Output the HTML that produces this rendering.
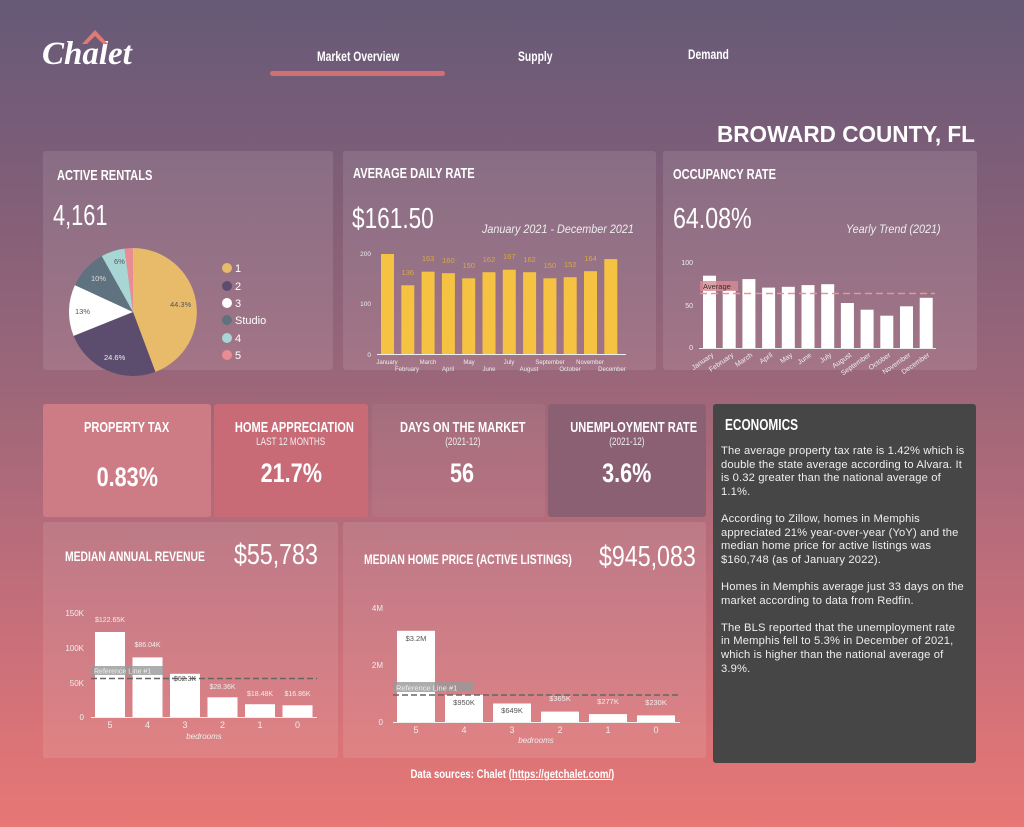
<!DOCTYPE html>
<html><head><meta charset="utf-8"><style>
*{margin:0;padding:0;box-sizing:border-box}
body{width:1024px;height:827px;overflow:hidden;position:relative;font-family:"Liberation Sans",sans-serif;color:#fff;
background:linear-gradient(180deg,#665a77 0%,#7b5d78 18%,#9a6679 45%,#c66f7a 75%,#e87775 100%)}
.a{position:absolute;white-space:nowrap}
.card{position:absolute;background:rgba(255,255,255,0.1);border-radius:3px}
.h{font-weight:bold;font-size:15px}
.n{font-size:29px}
.s{display:inline-block;transform:scaleX(0.74);transform-origin:left center}
.c{text-align:center}
.c .s{transform-origin:center center}
.eco{font-size:11.2px;line-height:13.6px;color:#eee;white-space:normal;letter-spacing:0.15px}
.eco p{margin-bottom:13.6px}
</style></head><body>
<div class="a" style="left:42px;top:36px;font-family:'Liberation Serif',serif;font-style:italic;font-weight:bold;font-size:33px">Chalet</div>
<svg class="a" style="left:80px;top:26px" width="30" height="20"><path d="M2 18 L15 4 L28 18 L23 18 L15 10 L7 18Z" fill="#e07a75"/></svg>
<div class="a h" style="left:317px;top:48px;font-size:14px"><span class="s">Market Overview</span></div>
<div class="a" style="left:270px;top:71px;width:175px;height:5px;border-radius:3px;background:#d26f74"></div>
<div class="a h" style="left:518px;top:48px;font-size:14px"><span class="s">Supply</span></div>
<div class="a h" style="left:688px;top:46px;font-size:14px"><span class="s">Demand</span></div>
<div class="a" style="left:717px;top:121px;font-size:23px;font-weight:bold"><span class="s" style="transform:scaleX(0.98)">BROWARD COUNTY, FL</span></div>

<div class="card" style="left:43px;top:151px;width:290px;height:219px"></div>
<div class="card" style="left:343px;top:151px;width:313px;height:219px"></div>
<div class="card" style="left:663px;top:151px;width:314px;height:219px"></div>
<div class="a h" style="left:57px;top:167px"><span class="s">ACTIVE RENTALS</span></div>
<div class="a n" style="left:53px;top:200px"><span class="s" style="transform:scaleX(0.75)">4,161</span></div>
<div class="a h" style="left:353px;top:165px"><span class="s">AVERAGE DAILY RATE</span></div>
<div class="a n" style="left:352px;top:203px"><span class="s" style="transform:scaleX(0.78)">$161.50</span></div>
<div class="a" style="left:482px;top:222px;font-size:12px;font-style:italic;color:#eee"><span class="s" style="transform:scaleX(0.9)">January 2021 - December 2021</span></div>
<div class="a h" style="left:673px;top:166px"><span class="s">OCCUPANCY RATE</span></div>
<div class="a n" style="left:673px;top:203px"><span class="s" style="transform:scaleX(0.8)">64.08%</span></div>
<div class="a" style="left:846px;top:222px;font-size:12px;font-style:italic;color:#eee"><span class="s" style="transform:scaleX(0.9)">Yearly Trend (2021)</span></div>

<div class="a" style="left:43px;top:404px;width:168px;height:113px;background:#cd7c86;border-radius:3px"></div>
<div class="a" style="left:214px;top:404px;width:154px;height:113px;background:#c96b76;border-radius:3px"></div>
<div class="a" style="left:372px;top:404px;width:173px;height:113px;background:rgba(255,255,255,0.05);border-radius:3px"></div>
<div class="a" style="left:548px;top:404px;width:158px;height:113px;background:#8a6072;border-radius:3px"></div>
<div class="a h c" style="left:43px;top:419px;width:168px"><span class="s">PROPERTY TAX</span></div>
<div class="a n c" style="left:43px;top:462px;width:168px;font-weight:bold;font-size:27px"><span class="s" style="transform:scaleX(0.8)">0.83%</span></div>
<div class="a h c" style="left:214px;top:419px;width:154px"><span class="s">HOME APPRECIATION</span></div>
<div class="a c" style="left:214px;top:436px;width:154px;font-size:11px;color:#eee"><span class="s">LAST 12 MONTHS</span></div>
<div class="a n c" style="left:214px;top:458px;width:154px;font-weight:bold;font-size:27px"><span class="s" style="transform:scaleX(0.8)">21.7%</span></div>
<div class="a h c" style="left:372px;top:419px;width:181px"><span class="s">DAYS ON THE MARKET</span></div>
<div class="a c" style="left:372px;top:436px;width:181px;font-size:11px;color:#eee"><span class="s">(2021-12)</span></div>
<div class="a n c" style="left:372px;top:458px;width:181px;font-weight:bold;font-size:27px"><span class="s" style="transform:scaleX(0.8)">56</span></div>
<div class="a h c" style="left:548px;top:419px;width:158px"><span class="s">UNEMPLOYMENT RATE</span></div>
<div class="a c" style="left:548px;top:436px;width:158px;font-size:11px;color:#eee"><span class="s">(2021-12)</span></div>
<div class="a n c" style="left:548px;top:458px;width:158px;font-weight:bold;font-size:27px"><span class="s" style="transform:scaleX(0.8)">3.6%</span></div>

<div class="a" style="left:713px;top:404px;width:263px;height:359px;background:#464646;border-radius:3px"></div>
<div class="a h" style="left:725px;top:417px;font-size:16px"><span class="s">ECONOMICS</span></div>
<div class="a eco" style="left:721px;top:445px;width:246px">
<p>The average property tax rate is 1.42% which is double the state average according to Alvara. It is 0.32 greater than the national average of 1.1%.</p>
<p>According to Zillow, homes in Memphis appreciated 21% year-over-year (YoY) and the median home price for active listings was $160,748 (as of January 2022).</p>
<p>Homes in Memphis average just 33 days on the market according to data from Redfin.</p>
<p>The BLS reported that the unemployment rate in Memphis fell to 5.3% in December of 2021, which is higher than the national average of 3.9%.</p></div>

<div class="card" style="left:43px;top:522px;width:295px;height:236px"></div>
<div class="card" style="left:343px;top:522px;width:363px;height:236px"></div>
<div class="a h" style="left:65px;top:548px;font-size:14px"><span class="s">MEDIAN ANNUAL REVENUE</span></div>
<div class="a n" style="left:234px;top:539px"><span class="s" style="transform:scaleX(0.8)">$55,783</span></div>
<div class="a h" style="left:364px;top:551px;font-size:14px"><span class="s">MEDIAN HOME PRICE (ACTIVE LISTINGS)</span></div>
<div class="a n" style="left:599px;top:541px"><span class="s" style="transform:scaleX(0.8)">$945,083</span></div>
<div class="a h c" style="left:0;top:767px;width:1024px;font-size:12px"><span class="s" style="transform:scaleX(0.8)">Data sources: Chalet (<u>https://getchalet.com/</u>)</span></div>

<svg class="a" style="left:0;top:0" width="1024" height="827" font-family="Liberation Sans,sans-serif">
<g stroke="none">
<path d="M133 312 L133 248 A64 64 0 0 1 155.4 371.9Z" fill="#e8bb6b"/>
<path d="M133 312 L155.4 371.9 A64 64 0 0 1 73.6 335.9Z" fill="#5c4d6e"/>
<path d="M133 312 L73.6 335.9 A64 64 0 0 1 74.9 285.1Z" fill="#fff"/>
<path d="M133 312 L74.9 285.1 A64 64 0 0 1 101.8 256.1Z" fill="#5f7280"/>
<path d="M133 312 L101.8 256.1 A64 64 0 0 1 124.6 248.6Z" fill="#a8d6d4"/>
<path d="M133 312 L124.6 248.6 A64 64 0 0 1 133 248Z" fill="#e88e92"/>
</g>
<g font-size="7.5" fill="#555"><text x="170" y="307">44.3%</text><text x="104" y="360" fill="#eee">24.6%</text><text x="75" y="314">13%</text><text x="91" y="281" fill="#ddd">10%</text><text x="114" y="264">6%</text></g>
<g font-size="11" fill="#fff">
<circle cx="227" cy="268" r="5" fill="#e8bb6b"/><text x="235" y="272">1</text>
<circle cx="227" cy="286" r="5" fill="#5c4d6e"/><text x="235" y="290">2</text>
<circle cx="227" cy="303" r="5" fill="#fff"/><text x="235" y="307">3</text>
<circle cx="227" cy="320" r="5" fill="#5f7280"/><text x="235" y="324">Studio</text>
<circle cx="227" cy="338" r="5" fill="#a8d6d4"/><text x="235" y="342">4</text>
<circle cx="227" cy="355" r="5" fill="#e88e92"/><text x="235" y="359">5</text>
</g>
<g font-size="6.5" fill="#eee" text-anchor="end"><text x="371" y="256">200</text><text x="371" y="306">100</text><text x="371" y="357">0</text></g>
<line x1="377" y1="354.5" x2="626" y2="354.5" stroke="#eee"/>
<g fill="#f5c242">
<rect x="381" y="254" width="13" height="100"/><rect x="401.3" y="285.3" width="13" height="68.7"/><rect x="421.6" y="271.7" width="13" height="82.3"/><rect x="441.9" y="273.2" width="13" height="80.8"/><rect x="462.2" y="278.3" width="13" height="75.7"/><rect x="482.5" y="272.2" width="13" height="81.8"/><rect x="502.8" y="269.7" width="13" height="84.3"/><rect x="523.1" y="272.2" width="13" height="81.8"/><rect x="543.4" y="278.3" width="13" height="75.7"/><rect x="563.7" y="277.2" width="13" height="76.8"/><rect x="584" y="271.2" width="13" height="82.8"/><rect x="604.3" y="259.1" width="13" height="94.9"/></g>
<g font-size="7.5" fill="#d9a845" text-anchor="middle"><text x="407.8" y="275">136</text><text x="428.1" y="261">163</text><text x="448.4" y="263">160</text><text x="468.7" y="268">150</text><text x="489" y="262">162</text><text x="509.3" y="259">167</text><text x="529.6" y="262">162</text><text x="549.9" y="268">150</text><text x="570.2" y="267">152</text><text x="590.5" y="261">164</text></g>
<g font-size="6" fill="#eee" text-anchor="middle"><text x="387" y="364">January</text><text x="407" y="371">February</text><text x="428" y="364">March</text><text x="448" y="371">April</text><text x="469" y="364">May</text><text x="489" y="371">June</text><text x="509" y="364">July</text><text x="529" y="371">August</text><text x="550" y="364">September</text><text x="570" y="371">October</text><text x="590" y="364">November</text><text x="612" y="371">December</text></g>
<g font-size="7" fill="#eee" text-anchor="end"><text x="693" y="265">100</text><text x="693" y="308">50</text><text x="693" y="350">0</text></g>
<line x1="699" y1="348.5" x2="936" y2="348.5" stroke="#eee"/>
<g fill="#fff">
<rect x="703" y="275.7" width="13" height="72.3"/><rect x="722.7" y="290.2" width="13" height="57.8"/><rect x="742.4" y="279.1" width="13" height="68.9"/><rect x="762.1" y="287.6" width="13" height="60.4"/><rect x="781.8" y="286.8" width="13" height="61.2"/><rect x="801.5" y="285.1" width="13" height="62.9"/><rect x="821.2" y="284.2" width="13" height="63.8"/><rect x="840.9" y="303" width="13" height="45"/><rect x="860.6" y="309.7" width="13" height="38.3"/><rect x="880.3" y="315.7" width="13" height="32.3"/><rect x="900" y="306.3" width="13" height="41.7"/><rect x="919.7" y="297.8" width="13" height="50.2"/></g>
<line x1="700" y1="293.5" x2="935" y2="293.5" stroke="#e8949a" stroke-width="1.5" stroke-dasharray="7,4"/>
<rect x="700" y="281" width="38" height="10" fill="#d98a92" opacity="0.8"/><text x="703" y="289" font-size="7.5" fill="#333">Average</text>
<g font-size="7" fill="#eee" text-anchor="end">
<text transform="translate(714,356) rotate(-35)">January</text><text transform="translate(734,356) rotate(-35)">February</text><text transform="translate(753,356) rotate(-35)">March</text><text transform="translate(773,356) rotate(-35)">April</text><text transform="translate(793,356) rotate(-35)">May</text><text transform="translate(812,356) rotate(-35)">June</text><text transform="translate(832,356) rotate(-35)">July</text><text transform="translate(852,356) rotate(-35)">August</text><text transform="translate(871,356) rotate(-35)">September</text><text transform="translate(891,356) rotate(-35)">October</text><text transform="translate(911,356) rotate(-35)">November</text><text transform="translate(930,356) rotate(-35)">December</text></g>
<g font-size="8" fill="#eee" text-anchor="end"><text x="84" y="616">150K</text><text x="84" y="651">100K</text><text x="84" y="686">50K</text><text x="84" y="720">0</text></g>
<line x1="91" y1="717.5" x2="317" y2="717.5" stroke="#eee"/>
<g fill="#fff"><rect x="95" y="632" width="30" height="85"/><rect x="132.5" y="657.4" width="30" height="59.6"/><rect x="170" y="673.8" width="30" height="43.2"/><rect x="207.5" y="697.3" width="30" height="19.7"/><rect x="245" y="704.2" width="30" height="12.8"/><rect x="282.5" y="705.3" width="30" height="11.7"/></g>
<line x1="91" y1="678.5" x2="317" y2="678.5" stroke="#666" stroke-width="1.5" stroke-dasharray="6,3"/>
<rect x="91" y="666" width="73" height="9" fill="#999" opacity="0.8"/><text x="94" y="673.5" font-size="7" fill="#eee">Reference Line #1</text>
<g font-size="7" fill="#eee" text-anchor="middle"><text x="110" y="622">$122.65K</text><text x="147.5" y="647">$86.04K</text><text x="185" y="681" fill="#555">$62.3K</text><text x="222.5" y="689">$28.36K</text><text x="260" y="696">$18.48K</text><text x="297.5" y="696">$16.86K</text></g>
<g font-size="9" fill="#eee" text-anchor="middle"><text x="110" y="728">5</text><text x="147.5" y="728">4</text><text x="185" y="728">3</text><text x="222.5" y="728">2</text><text x="260" y="728">1</text><text x="297.5" y="728">0</text><text x="204" y="739" font-size="8" font-style="italic">bedrooms</text></g>
<g font-size="8" fill="#eee" text-anchor="end"><text x="383" y="611">4M</text><text x="383" y="668">2M</text><text x="383" y="725">0</text></g>
<line x1="393" y1="722.5" x2="680" y2="722.5" stroke="#eee"/>
<g fill="#fff"><rect x="397" y="630.8" width="38" height="91.2"/><rect x="445" y="694.9" width="38" height="27.1"/><rect x="493" y="703.5" width="38" height="18.5"/><rect x="541" y="711.6" width="38" height="10.4"/><rect x="589" y="714.1" width="38" height="7.9"/><rect x="637" y="715.4" width="38" height="6.6"/></g>
<line x1="393" y1="695" x2="680" y2="695" stroke="#666" stroke-width="1.5" stroke-dasharray="6,3"/>
<rect x="393" y="682" width="80" height="10" fill="#999" opacity="0.8"/><text x="396" y="690.5" font-size="7.5" fill="#eee">Reference Line #1</text>
<g font-size="7.5" fill="#555" text-anchor="middle"><text x="416" y="641">$3.2M</text><text x="464" y="705">$950K</text><text x="512" y="713">$649K</text><text x="560" y="701" fill="#eee">$365K</text><text x="608" y="704" fill="#eee">$277K</text><text x="656" y="705" fill="#eee">$230K</text></g>
<g font-size="9" fill="#eee" text-anchor="middle"><text x="416" y="733">5</text><text x="464" y="733">4</text><text x="512" y="733">3</text><text x="560" y="733">2</text><text x="608" y="733">1</text><text x="656" y="733">0</text><text x="536" y="743" font-size="8" font-style="italic">bedrooms</text></g>
</svg>
</body></html>
